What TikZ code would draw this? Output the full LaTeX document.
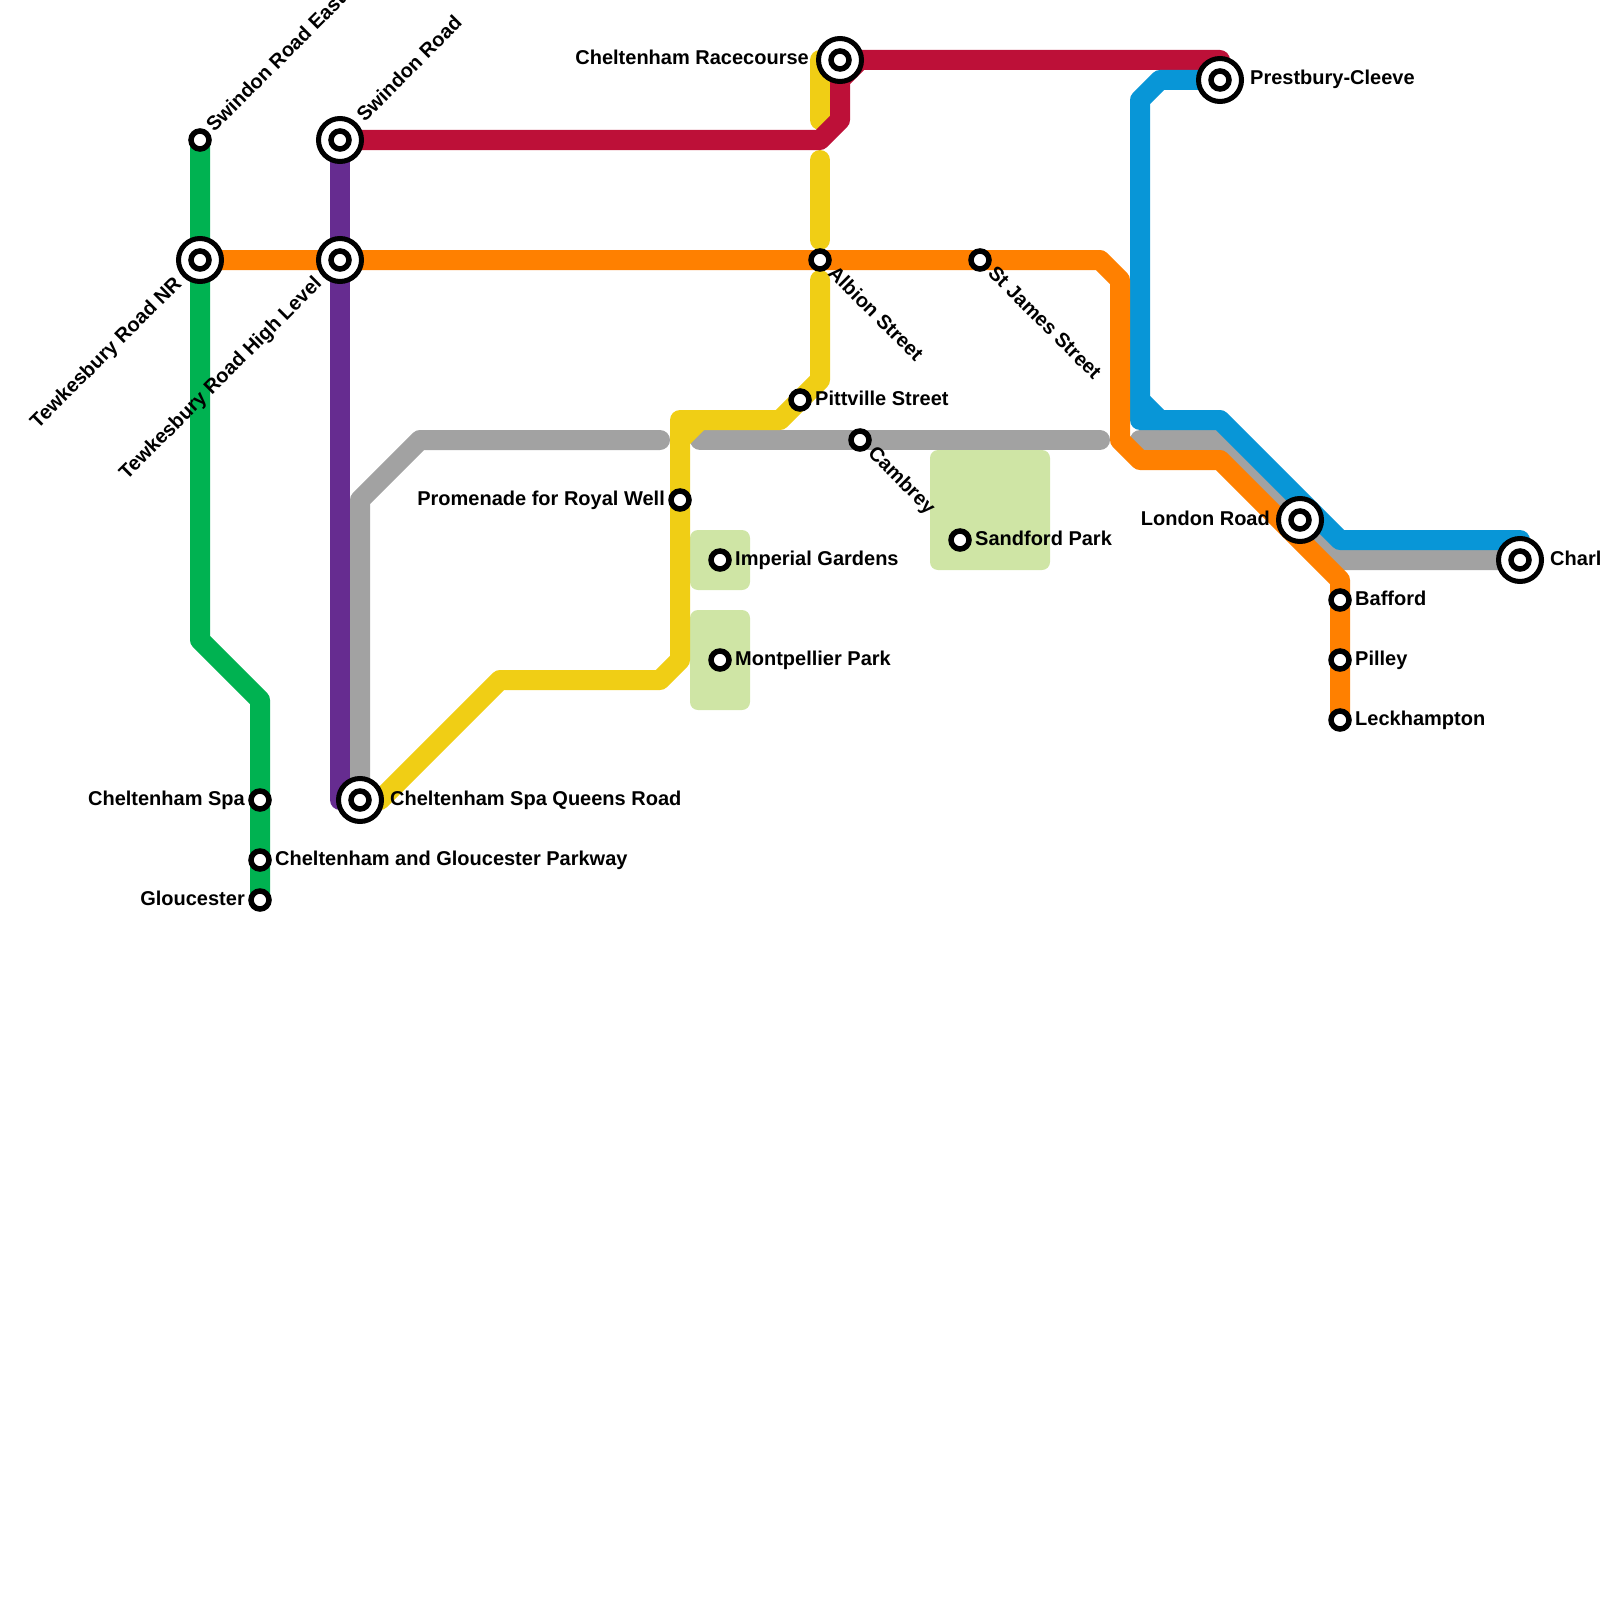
\documentclass[tikz,border=0pt]{standalone}
\usepackage{fontspec}
\setmainfont{Liberation Sans}
\definecolor{lgreen}{HTML}{00B251}
\definecolor{lorange}{HTML}{FF8000}
\definecolor{lpurple}{HTML}{662C90}
\definecolor{lred}{HTML}{BD1038}
\definecolor{lyellow}{HTML}{F0CE15}
\definecolor{lblue}{HTML}{0896D7}
\definecolor{lgrey}{HTML}{A2A2A2}
\definecolor{parkgreen}{HTML}{CFE5A5}
\pgfdeclarelayer{lines}
\pgfdeclarelayer{parks}
\pgfsetlayers{parks,lines,main}
\tikzset{
  route/.style={draw=#1,line width=20pt,line join=round,line cap=round},
  parkbox/.style={fill=parkgreen,rounded corners=8pt},
  smallstop/.style={circle,draw=black,fill=white,line width=5.5pt,minimum size=18pt,inner sep=0pt,outer sep=0pt},
  bigstop/.style={circle,draw=black,fill=white,line width=5pt,minimum size=43pt,inner sep=0pt,outer sep=0pt},
  lbl/.style={inner sep=0pt,font=\bfseries\fontsize{20}{20}\selectfont,text=black},
  lblr/.style={lbl,anchor=base west},
  lbll/.style={lbl,anchor=base east},
}
\newcommand{\stp}[3]{\node[smallstop] (#1) at (#2,#3) {};}
\newcommand{\ichg}[3]{\node[bigstop] (#1) at (#2,#3) {};\node[smallstop] (#1i) at (#2,#3) {};}
\begin{document}
\begin{tikzpicture}[x=1pt,y=-1pt]
\useasboundingbox (0,0) rectangle (1600,1600);
% stations
\stp{sre}{200}{140}
\ichg{tnr}{200}{260}
\ichg{swr}{340}{140}
\ichg{thl}{340}{260}
\ichg{cqr}{360}{800}
\stp{spa}{260}{800}
\stp{cgp}{260}{860}
\stp{glo}{260}{900}
\ichg{rac}{840}{60}
\ichg{pre}{1220}{80}
\stp{alb}{820}{260}
\stp{stj}{980}{260}
\stp{pit}{800}{400}
\stp{cam}{860}{440}
\stp{pro}{680}{500}
\stp{imp}{720}{560}
\stp{mon}{720}{660}
\stp{san}{960}{540}
\ichg{lon}{1300}{520}
\ichg{cha}{1520}{560}
\stp{baf}{1340}{600}
\stp{pil}{1340}{660}
\stp{lec}{1340}{720}
% bend points
\coordinate (g1) at (200,640); \coordinate (g2) at (260,700);
\coordinate (o1) at (1100,260); \coordinate (o2) at (1120,280); \coordinate (o3) at (1120,440);
\coordinate (o4) at (1140,460); \coordinate (o5) at (1220,460); \coordinate (o6) at (1340,580);
\coordinate (r1) at (820,140); \coordinate (r2) at (840,120); \coordinate (r3) at (840,80);
\coordinate (r4) at (860,60); \coordinate (r5) at (1220,60);
\coordinate (b1) at (1160,80); \coordinate (b2) at (1140,100); \coordinate (b3) at (1140,420);
\coordinate (b4) at (1220,420); \coordinate (b5) at (1340,540); \coordinate (b6) at (1520,540);
\coordinate (b7) at (1140,400); \coordinate (b8) at (1160,420);
\coordinate (a1) at (360,500); \coordinate (a2) at (420,440); \coordinate (a3) at (660,440);
\coordinate (a4) at (700,440); \coordinate (a5) at (1100,440);
\coordinate (a6) at (1140,440); \coordinate (a7) at (1220,440); \coordinate (a8) at (1340,560);
\coordinate (y1) at (380,800); \coordinate (y2) at (500,680); \coordinate (y3) at (660,680);
\coordinate (y4) at (680,660); \coordinate (y5) at (680,420); \coordinate (y6) at (780,420);
\coordinate (y7) at (820,380); \coordinate (y8) at (820,280);
\coordinate (y9) at (820,240); \coordinate (y10) at (820,160);
\coordinate (y11) at (820,120); \coordinate (y12) at (820,60);
\coordinate (y13) at (680,440); \coordinate (y14) at (700,420);
\coordinate (p1) at (340,800);
\begin{pgfonlayer}{parks}
\fill[parkbox] (690,530) rectangle (750,590);
\fill[parkbox] (690,610) rectangle (750,710);
\fill[parkbox] (930,450) rectangle (1050,570);
\end{pgfonlayer}
\begin{pgfonlayer}{lines}
\draw[route=lgrey] (cqr.center) -- (a1) -- (a2) -- (a3);
\draw[route=lgrey] (a4) -- (a5);
\draw[route=lgrey] (a6) -- (a7) -- (a8) -- (cha.center);
\draw[route=lyellow] (cqr.center) -- (y1) -- (y2) -- (y3) -- (y4) -- (y5) -- (y6) -- (y7) -- (y8);
\draw[route=lyellow] (y13) -- (y14);
\draw[route=lyellow] (y9) -- (y10);
\draw[route=lyellow] (rac.center) -- (y12) -- (y11);
\draw[route=lgreen] (sre.center) -- (g1) -- (g2) -- (glo.center);
\draw[route=lpurple] (swr.center) -- (p1) -- (cqr.center);
\draw[route=lred] (swr.center) -- (r1) -- (r2) -- (r3) -- (r4) -- (r5) -- (pre.center);
\draw[route=lblue] (pre.center) -- (b1) -- (b2) -- (b3) -- (b4) -- (b5) -- (b6) -- (cha.center);
\draw[route=lblue] (b7) -- (b8);
\draw[route=lorange] (tnr.center) -- (o1) -- (o2) -- (o3) -- (o4) -- (o5) -- (o6) -- (lec.center);
\end{pgfonlayer}
% labels
\node[lblr,rotate=45] (tsre) at (214.3,133.1) {Swindon Road East};
\node[lblr,rotate=45] (tswr) at (364.7,122.7) {Swindon Road};
\node[lbll,rotate=45] (ttnr) at (182.7,284.7) {Tewkesbury Road NR};
\node[lbll,rotate=45] (tthl) at (322.7,284.7) {Tewkesbury Road High Level};
\node[lbll] (trac) at (809,65) {Cheltenham Racecourse};
\node[lblr] (tpre) at (1250,85) {Prestbury-Cleeve};
\node[lblr,rotate=-45] (talb) at (826.9,274.3) {Albion Street};
\node[lblr,rotate=-45] (tstj) at (986.9,274.3) {St James Street};
\node[lblr] (tpit) at (815,405) {Pittville Street};
\node[lblr,rotate=-45] (tcam) at (866.9,454.3) {Cambrey};
\node[lbll] (tpro) at (665,505) {Promenade for Royal Well};
\node[lblr] (timp) at (735,565) {Imperial Gardens};
\node[lblr] (tmon) at (735,665) {Montpellier Park};
\node[lblr] (tsan) at (975,545) {Sandford Park};
\node[lbll] (tlon) at (1270,525) {London Road};
\node[lblr] (tcha) at (1550,565) {Charl};
\node[lblr] (tbaf) at (1355,605) {Bafford};
\node[lblr] (tpil) at (1355,665) {Pilley};
\node[lblr] (tlec) at (1355,725) {Leckhampton};
\node[lbll] (tspa) at (245,805) {Cheltenham Spa};
\node[lblr] (tcgp) at (275,865) {Cheltenham and Gloucester Parkway};
\node[lbll] (tglo) at (245,905) {Gloucester};
\node[lblr] (tcqr) at (390,805) {Cheltenham Spa Queens Road};
\end{tikzpicture}
\end{document}
